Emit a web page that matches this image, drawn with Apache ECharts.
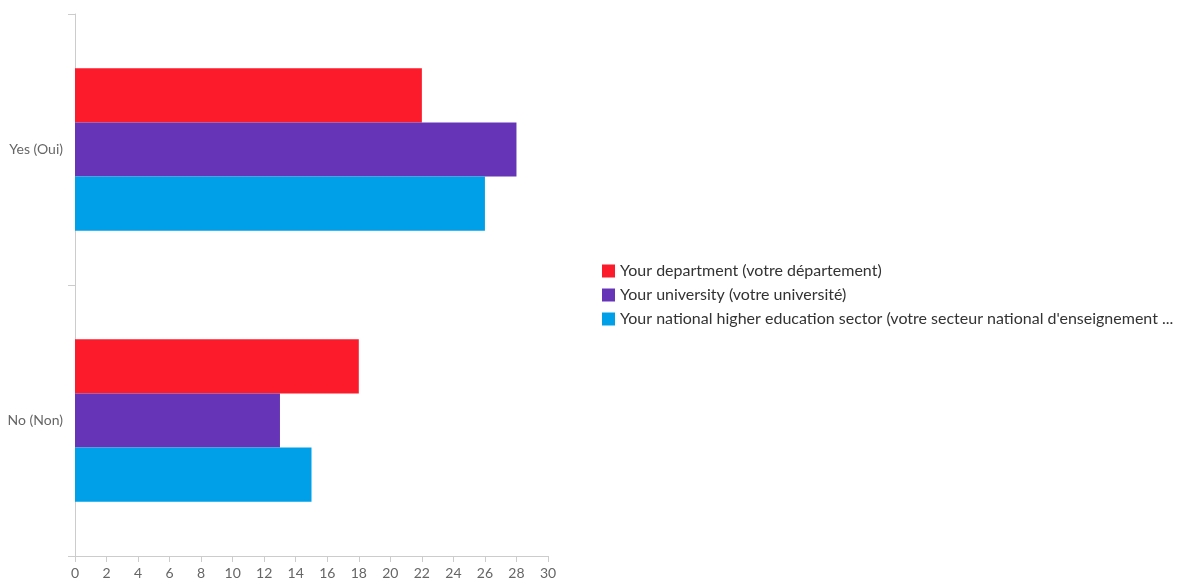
<!DOCTYPE html>
<html>
<head>
<meta charset="utf-8">
<script src="https://cdn.jsdelivr.net/npm/echarts@6/dist/echarts.min.js"></script>
<style>
  html, body { margin: 0; padding: 0; background: #fff; }
  #main { width: 1178px; height: 582px; }
</style>
</head>
<body>
<div id="main"></div>
<script>
// categories, series values
var categories = ['Yes (Oui)', 'No (Non)'];
var seriesNames = [
    'Your department (votre département)',
    'Your university (votre université)',
    "Your national higher education sector (votre secteur national d'enseignement supérieur)"
];
var department = [22, 18];
var university = [28, 13];
var national = [26, 15];
var colors = ['#fb1b2b', '#6534b7', '#00a0e8'];

var myChart = echarts.init(document.getElementById('main'));

function bar(name, data, color) {
    return {
        name: name,
        type: 'bar',
        data: data,
        itemStyle: {color: color},
        barGap: '0%',
        barCategoryGap: '40%'
    };
}

var option = {
    animation: false,
    textStyle: {fontFamily: 'Lato'},
    grid: {left: 75, right: 630, top: 14, bottom: 26},
    legend: {
        orient: 'vertical',
        left: 597,
        top: 258,
        itemWidth: 13,
        itemHeight: 13,
        itemGap: 8,
        icon: 'rect',
        textStyle: {fontSize: 16, color: '#333', width: 555, overflow: 'truncate'},
        data: seriesNames
    },
    xAxis: {
        type: 'value',
        min: 0,
        max: 30,
        interval: 2,
        splitLine: {show: false},
        axisLine: {show: true, lineStyle: {color: '#ccc'}},
        axisTick: {show: true, length: 6, lineStyle: {color: '#ccc'}},
        axisLabel: {color: '#666', fontSize: 14, margin: 10}
    },
    yAxis: {
        type: 'category',
        inverse: true,
        data: categories,
        axisLine: {lineStyle: {color: '#ccc'}},
        axisTick: {show: true, length: 7, lineStyle: {color: '#ccc'}},
        axisLabel: {color: '#666', fontSize: 14, margin: 12}
    },
    series: [
        bar(seriesNames[0], department, colors[0]),
        bar(seriesNames[1], university, colors[1]),
        bar(seriesNames[2], national, colors[2])
    ]
};

myChart.setOption(option);
</script>
</body>
</html>
